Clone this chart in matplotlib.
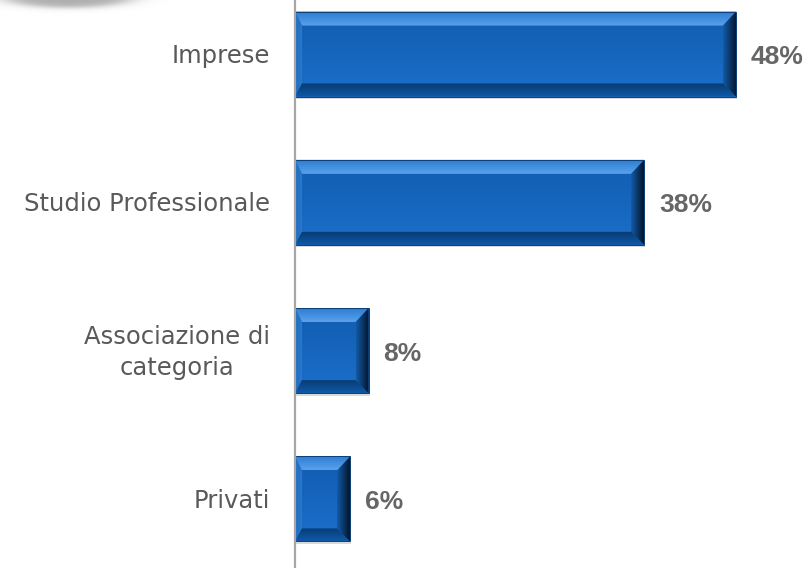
import numpy as np
import matplotlib
matplotlib.use('Agg')
import matplotlib.pyplot as plt
from matplotlib.patches import Polygon, Rectangle
from matplotlib.colors import LinearSegmentedColormap

# Data
categories = ['Imprese', 'Studio Professionale', 'Associazione di\ncategoria', 'Privati']
values = [48, 38, 8, 6]
value_labels = ['48%', '38%', '8%', '6%']

W, H, DPI = 810, 568, 100
fig = plt.figure(figsize=(W / DPI, H / DPI), dpi=DPI)

# decorative shadow in the top-left corner (pixel coordinates)
deco = fig.add_axes([0, 0, 1, 1])
deco.set_xlim(0, W)
deco.set_ylim(H, 0)
deco.axis('off')
yy, xx = np.mgrid[0:40, 0:200]
d = np.sqrt(((xx - 68) / 64.0) ** 2 + ((yy + 4) / 11.0) ** 2)
alpha = 0.45 / (1 + np.exp((d - 1) / 0.14))
rgba = np.zeros((40, 200, 4))
rgba[..., :3] = 0.3
rgba[..., 3] = alpha
deco.imshow(rgba, extent=(0, 200, 40, 0), interpolation='bilinear', zorder=0)
deco.set_aspect('auto')

# bar axes: x scale 9.19 px per percent, starting at the vertical line
px_per_pct = 9.19
left_px = 295
xmax = 55
ax = fig.add_axes([left_px / W, 0, xmax * px_per_pct / W, 1])
ax.patch.set_alpha(0)
spacing = 148.3
for s in ['top', 'right', 'bottom']:
    ax.spines[s].set_visible(False)
ax.spines['left'].set_color('#a6a6a6')
ax.spines['left'].set_linewidth(1.6)
ax.spines['left'].set_zorder(6)
ax.set_xticks([])
ax.set_yticks([])

bar_h = 85 / spacing
lx = 7 / px_per_pct      # left bevel
rx = 13 / px_per_pct     # right bevel
ty = 14 / spacing        # top bevel
bty = 13 / spacing       # bottom bevel

face = '#1565c0'


def grad_poly(pts, c0, c1, extent, vertical):
    # polygon filled with a linear gradient from c0 to c1
    poly = Polygon(pts, closed=True, facecolor='none', lw=0, zorder=3)
    ax.add_patch(poly)
    g = np.linspace(0, 1, 64)
    g = g.reshape(-1, 1) if vertical else g.reshape(1, -1)
    cm = LinearSegmentedColormap.from_list('g', [c0, c1])
    im = ax.imshow(g, cmap=cm, extent=extent, aspect='auto', zorder=3,
                   interpolation='bilinear', origin='upper')
    im.set_clip_path(poly)


for i, v in enumerate(values):
    y0 = i - bar_h / 2
    y1 = i + bar_h / 2
    # soft shadow
    ax.add_patch(Rectangle((0.12, y0 + 2.5 / spacing), v, bar_h, color='#c0c0c0', alpha=0.6, lw=0, zorder=1))
    ax.add_patch(Rectangle((0, y0), v, bar_h, facecolor=face, edgecolor='none', lw=0, zorder=2))
    # face shading
    grad_poly([(lx, y0 + ty), (v - rx, y0 + ty), (v - rx, y1 - bty), (lx, y1 - bty)],
              '#1a6cc6', '#1260b5', (lx, v - rx, y0 + ty, y1 - bty), True)
    # top bevel
    grad_poly([(0, y0), (v, y0), (v - rx, y0 + ty), (lx, y0 + ty)],
              '#5aa2ea', '#2a7ad2', (0, v, y0, y0 + ty), True)
    # left bevel
    grad_poly([(0, y0), (lx, y0 + ty), (lx, y1 - bty), (0, y1)],
              '#1d6cc2', '#2a78cc', (0, lx, y0, y1), False)
    # bottom bevel
    grad_poly([(0, y1), (lx, y1 - bty), (v - rx, y1 - bty), (v, y1)],
              '#0f59a8', '#083a70', (0, v, y1 - bty, y1), True)
    # right bevel
    grad_poly([(v, y0), (v, y1), (v - rx, y1 - bty), (v - rx, y0 + ty)],
              '#125aa6', '#03152b', (v - rx, v, y0, y1), False)
    # outline
    ax.add_patch(Rectangle((0, y0), v, bar_h, facecolor='none', edgecolor='#0b3f78', lw=0.7, zorder=4))

    ax.annotate(value_labels[i], xy=(v, i), xytext=(15, -3), textcoords='offset pixels',
                ha='left', va='center', fontsize=19, fontweight='bold', family='Liberation Sans',
                color='#666666')
    ax.annotate(categories[i], xy=(0, i), xytext=(-25, -2), textcoords='offset pixels',
                ha='right', va='center', multialignment='center', fontsize=17.5,
                family='DejaVu Sans', color='#595959', linespacing=1.4)

ax.set_xlim(0, xmax)
ax.set_ylim(3 + 69 / spacing, -54 / spacing)

fig.savefig('out.png', dpi=DPI)
